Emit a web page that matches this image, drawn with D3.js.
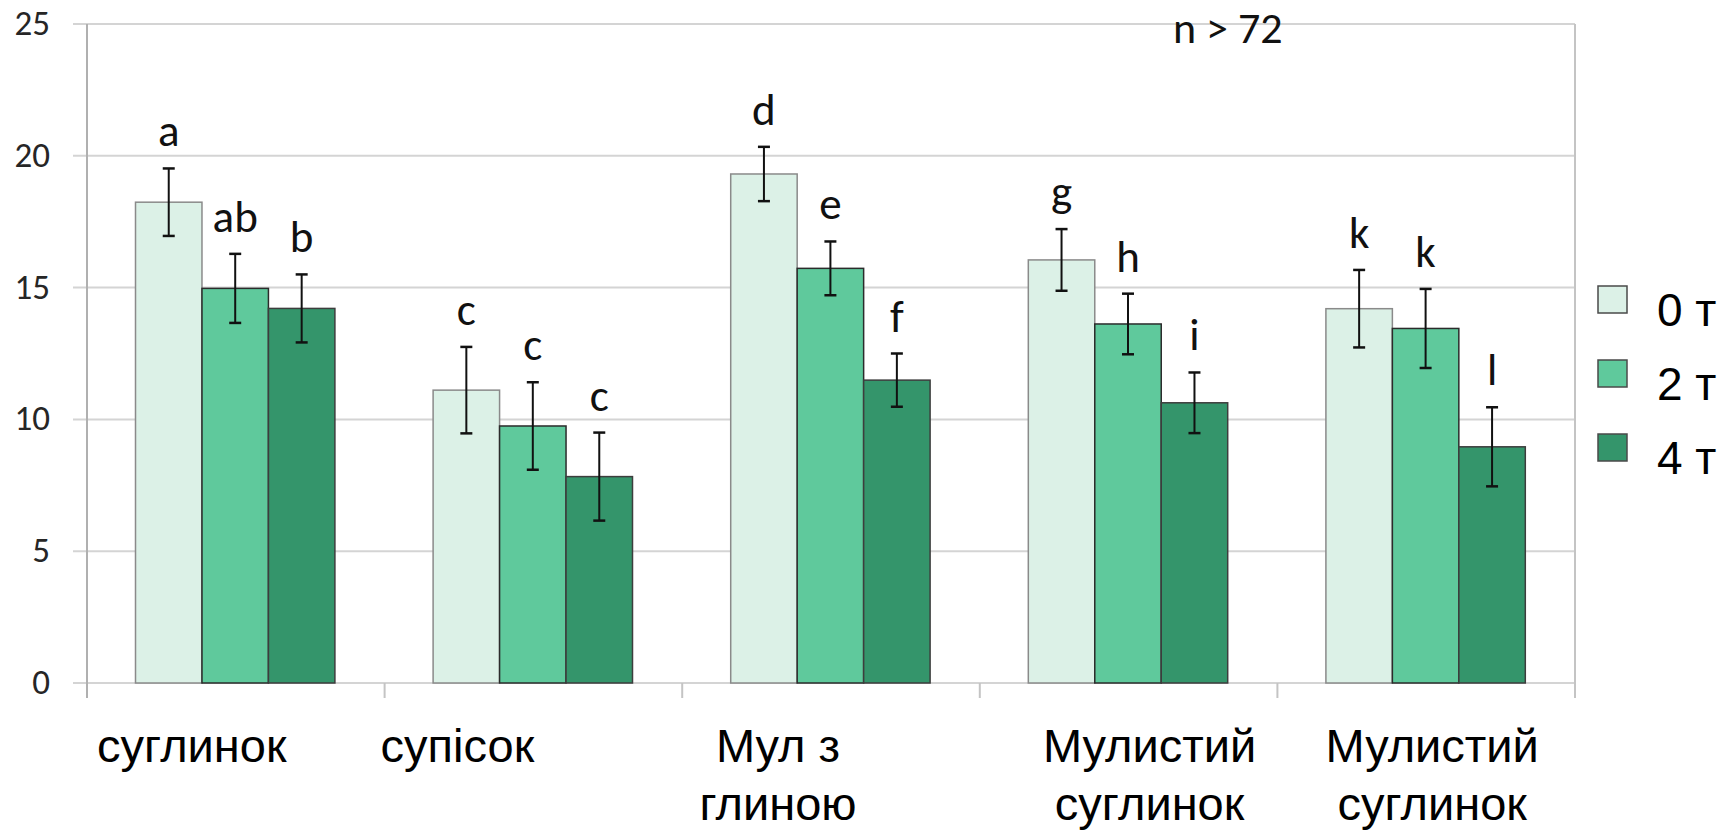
<!DOCTYPE html>
<html>
<head>
<meta charset="utf-8">
<script src="https://cdn.jsdelivr.net/npm/d3@7"></script>
<style>
  body { margin: 0; background: #fff; }
</style>
</head>
<body>
<div id="chart"></div>
<script>
// data
const categories = [['суглинок'], ['супісок'], ['Мул з', 'глиною'], ['Мулистий', 'суглинок'], ['Мулистий', 'суглинок']];
const seriesNames = ['0 т', '2 т', '4 т'];
const means0 = [18.24, 11.11, 19.31, 16.05, 14.20];
const means2 = [14.97, 9.75, 15.73, 13.62, 13.45];
const means4 = [14.21, 7.83, 11.49, 10.63, 8.96];
const err0 = [1.28, 1.64, 1.03, 1.17, 1.47];
const err2 = [1.31, 1.66, 1.02, 1.15, 1.50];
const err4 = [1.29, 1.67, 1.01, 1.15, 1.50];
const letters0 = ['a', 'c', 'd', 'g', 'k'];
const letters2 = ['ab', 'c', 'e', 'h', 'k'];
const letters4 = ['b', 'c', 'f', 'i', 'l'];
const yTicks = [0, 5, 10, 15, 20, 25];
const note = 'n > 72';

// layout
const W = 1732, H = 831;
const plot = {left: 87, right: 1575, top: 24, bottom: 683};
const labelShift = [-44, -76, -53, 21, 6];
const fills = ['#dcf1e7', '#5fc99c', '#34956b'];
const strokes = ['#8a8a8a', '#2b2b2b', '#3d3d3d'];
const calibri = 'Carlito, Calibri, Lato, sans-serif';
const arial = '"Liberation Sans", Arial, sans-serif';

const series = [
  {name: seriesNames[0], means: means0, errs: err0, letters: letters0},
  {name: seriesNames[1], means: means2, errs: err2, letters: letters2},
  {name: seriesNames[2], means: means4, errs: err4, letters: letters4}
];

const rows = [];
series.forEach((s, si) => {
  s.means.forEach((m, ci) => rows.push({si, ci, mean: m, err: s.errs[ci], letter: s.letters[ci]}));
});

const svg = d3.select('#chart').append('svg')
  .attr('width', W).attr('height', H);

const x0 = d3.scaleBand().domain(d3.range(categories.length))
  .range([plot.left, plot.right]).padding(0);
const bw = x0.bandwidth();
const x1 = d3.scaleBand().domain(d3.range(series.length))
  .range([bw * 0.163, bw * 0.833]).padding(0);
const y = d3.scaleLinear().domain([0, 25]).range([plot.bottom, plot.top]);

// gridlines
svg.append('g').selectAll('line').data(yTicks).enter().append('line')
  .attr('x1', plot.left - 14).attr('x2', plot.right)
  .attr('y1', d => y(d)).attr('y2', d => y(d))
  .style('stroke', '#d4d4d4').style('stroke-width', 2);

// y labels
svg.append('g').selectAll('text').data(yTicks).enter().append('text')
  .attr('x', 50).attr('y', d => y(d) + 11)
  .attr('text-anchor', 'end')
  .style('font-family', calibri).style('font-size', '35px').style('fill', '#262626')
  .text(d => d);

// axis lines and category ticks
svg.append('line')
  .attr('x1', plot.left).attr('x2', plot.left)
  .attr('y1', plot.top).attr('y2', plot.bottom + 15)
  .style('stroke', '#b0b0b0').style('stroke-width', 2);
svg.append('g').selectAll('line').data(d3.range(1, categories.length + 1)).enter().append('line')
  .attr('x1', d => plot.left + d * bw).attr('x2', d => plot.left + d * bw)
  .attr('y1', d => d === categories.length ? plot.top : plot.bottom).attr('y2', plot.bottom + 15)
  .style('stroke', '#c4c4c4').style('stroke-width', 2);

// bars
const g = svg.append('g');
g.selectAll('rect').data(rows).enter().append('rect')
  .attr('x', d => x0(d.ci) + x1(d.si))
  .attr('y', d => y(d.mean))
  .attr('width', x1.bandwidth())
  .attr('height', d => y(0) - y(d.mean))
  .style('fill', d => fills[d.si])
  .style('stroke', d => strokes[d.si])
  .style('stroke-width', 1.5);

// error bars
const eb = svg.append('g').selectAll('g').data(rows).enter().append('g')
  .attr('transform', d => `translate(${x0(d.ci) + x1(d.si) + x1.bandwidth() / 2},0)`);
eb.append('line')
  .attr('y1', d => y(d.mean + d.err)).attr('y2', d => y(d.mean - d.err))
  .style('stroke', '#111').style('stroke-width', 2);
eb.append('line')
  .attr('x1', -6).attr('x2', 6)
  .attr('y1', d => y(d.mean + d.err)).attr('y2', d => y(d.mean + d.err))
  .style('stroke', '#111').style('stroke-width', 2.5);
eb.append('line')
  .attr('x1', -6).attr('x2', 6)
  .attr('y1', d => y(d.mean - d.err)).attr('y2', d => y(d.mean - d.err))
  .style('stroke', '#111').style('stroke-width', 2.5);
eb.append('text')
  .attr('y', d => y(d.mean + d.err) - 22)
  .attr('text-anchor', 'middle')
  .style('font-family', calibri).style('font-size', '45px').style('fill', '#111')
  .text(d => d.letter);

// category labels
const cl = svg.append('g').selectAll('text').data(categories).enter().append('text')
  .attr('text-anchor', 'middle')
  .style('font-family', arial).style('font-size', '47px').style('fill', '#000');
cl.selectAll('tspan').data((d, i) => d.map(t => ({t, i}))).enter().append('tspan')
  .attr('x', d => x0(d.i) + bw / 2 + labelShift[d.i])
  .attr('y', (d, j) => 762 + j * 58)
  .text(d => d.t);

// note
svg.append('text')
  .attr('x', 1173).attr('y', 43)
  .style('font-family', calibri).style('font-size', '44px').style('fill', '#111')
  .text(note);

// legend
const lg = svg.append('g').selectAll('g').data(series).enter().append('g')
  .attr('transform', (d, i) => `translate(1598,${286 + i * 74})`);
lg.append('rect')
  .attr('width', 29).attr('height', 27)
  .style('fill', (d, i) => fills[i])
  .style('stroke', '#4a4a4a').style('stroke-width', 1.5);
lg.append('text')
  .attr('x', 59).attr('y', 40)
  .style('font-family', arial).style('font-size', '46px').style('fill', '#000')
  .text(d => d.name);
</script>
</body>
</html>
